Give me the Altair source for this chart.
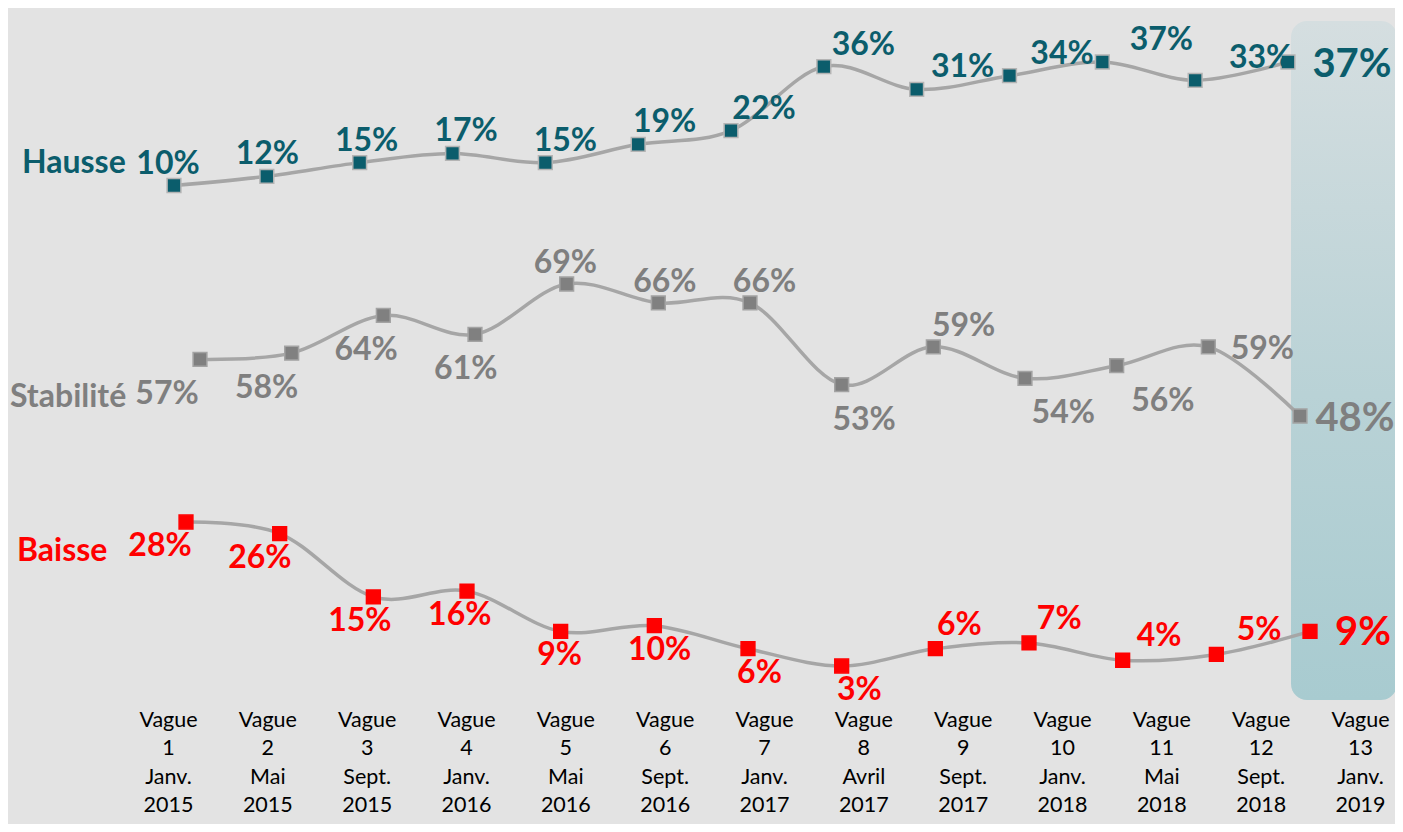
import altair as alt
import pandas as pd

# ---- data ----
waves = [str(i) for i in range(1, 14)]
months = ["Janv.", "Mai", "Sept.", "Janv.", "Mai", "Sept.", "Janv.", "Avril",
          "Sept.", "Janv.", "Mai", "Sept.", "Janv."]
years = ["2015", "2015", "2015", "2016", "2016", "2016", "2017", "2017",
         "2017", "2018", "2018", "2018", "2019"]
hausse = [10, 12, 15, 17, 15, 19, 22, 36, 31, 34, 37, 33, 37]
stabilite = [57, 58, 64, 61, 69, 66, 66, 53, 59, 54, 56, 59, 48]
baisse = [28, 26, 15, 16, 9, 10, 6, 3, 6, 7, 4, 5, 9]

# label placement relative to the marker (style)
hausse_side = ["above"] * 12 + ["big"]
stab_side = ["below", "below", "below", "below", "above", "above", "above",
             "below", "above", "below", "below", "level", "big"]
baisse_side = ["below"] * 8 + ["above"] * 4 + ["big"]

cats = [f"Vague|{w}|{m}|{y}" for w, m, y in zip(waves, months, years)]

FONT = "Lato"
LINE_COLOR = "#a6a6a6"

series = [
    dict(name="Hausse", vals=hausse, side=hausse_side, color="#0b5d6c",
         mfill="#0b5d6c", mstroke="#b4b4b4",
         xr=[166, 1280], lr=[160, 1352], dom=[10, 37], yr=[177.5, 54],
         offs={"above": -22, "below": 30, "level": 2, "big": 3},
         big_dx=-8, name_dy=-23, name_x=14),
    dict(name="Stabilité", vals=stabilite, side=stab_side, color="#7f7f7f",
         mfill="#808080", mstroke="#a3a3a3",
         xr=[192, 1292], lr=[159, 1354], dom=[48, 69], yr=[408, 276],
         offs={"above": -21, "below": 35, "level": 2, "big": 3},
         big_dx=-7, name_dy=38, name_x=2),
    dict(name="Baisse", vals=baisse, side=baisse_side, color="#ff0000",
         mfill="#ff0000", mstroke="#ff0000",
         xr=[178, 1302], lr=[152, 1351], dom=[3, 28], yr=[658, 514],
         offs={"above": -24, "below": 24, "level": 2, "big": 2},
         big_dx=4, name_dy=29, name_x=9),
]


def xenc(rng, axis=None):
    return alt.X("cat:O", sort=cats,
                 scale=alt.Scale(type="point", domain=cats, range=rng, padding=0),
                 axis=axis)


def yenc(dom, rng):
    return alt.Y("value:Q", scale=alt.Scale(domain=dom, range=rng, zero=False, nice=False),
                 axis=None)


layers = []

# highlight box for the last wave
box_df = pd.DataFrame({"cat": [cats[-1]]})
box = alt.Chart(box_df).mark_rect(
    width=106, cornerRadius=16,
    fill=alt.Gradient(gradient="linear",
                      stops=[alt.GradientStop(color="#d5dee0", offset=0),
                             alt.GradientStop(color="#b9d2d6", offset=0.55),
                             alt.GradientStop(color="#a8cbd0", offset=1)],
                      x1=0, x2=0, y1=0, y2=1),
).encode(x=xenc([135, 1336]), y=alt.value(13), y2=alt.value(692))
layers.append(box)

axis = alt.Axis(labelExpr="split(datum.label, '|')", labelFont=FONT, labelFontSize=21.5,
                labelColor="#000000", labelLineHeight=28.5, labelAngle=0,
                labelBaseline="top", labelPadding=4, domain=False, ticks=False,
                grid=False, title=None, labelOverlap=False)

for s in series:
    df = pd.DataFrame({"cat": cats, "value": s["vals"]})
    line = alt.Chart(df).mark_line(color=LINE_COLOR, strokeWidth=3.5,
                                   interpolate="cardinal").encode(
        x=xenc(s["xr"]), y=yenc(s["dom"], s["yr"]))
    layers.append(line)

for s in series:
    df = pd.DataFrame({"cat": cats, "value": s["vals"]})
    pts = alt.Chart(df).mark_point(shape="square", filled=True, size=190, opacity=1,
                                   fill=s["mfill"], stroke=s["mstroke"],
                                   strokeWidth=1.5).encode(
        x=xenc(s["xr"]), y=yenc(s["dom"], s["yr"]))
    layers.append(pts)

axis_used = False
for s in series:
    df = pd.DataFrame({"cat": cats, "value": s["vals"],
                       "label": [f"{v}%" for v in s["vals"]], "side": s["side"]})
    for side, dy in s["offs"].items():
        if side not in s["side"]:
            continue
        size = 40 if side == "big" else 32
        dx = s["big_dx"] if side == "big" else 0
        ax = None
        if not axis_used:
            ax = axis
            axis_used = True
        t = alt.Chart(df).transform_filter(alt.datum.side == side).mark_text(
            font=FONT, fontWeight="bold", fontSize=size, color=s["color"],
            dy=dy, dx=dx, baseline="middle", align="center").encode(
            x=xenc(s["lr"], ax), y=yenc(s["dom"], s["yr"]), text="label:N")
        layers.append(t)
    # series name
    ndf = pd.DataFrame({"value": [s["vals"][0]]})
    nm = alt.Chart(ndf).mark_text(
        font=FONT, fontWeight="bold", fontSize=32, color=s["color"],
        dy=s["name_dy"], baseline="middle", align="left").encode(
        x=alt.value(s["name_x"]), y=yenc(s["dom"], s["yr"]), text=alt.value(s["name"]))
    layers.append(nm)

chart = alt.layer(*layers).resolve_scale(x="independent", y="independent").properties(
    width=1387, height=697,
    padding={"left": 0, "top": 0, "right": 0, "bottom": 119},
    autosize=alt.AutoSizeParams(type="none"),
    background="#e3e3e3",
).configure_view(stroke=None)

chart.save("out.html", embed_options={"renderer": "svg", "actions": False})
